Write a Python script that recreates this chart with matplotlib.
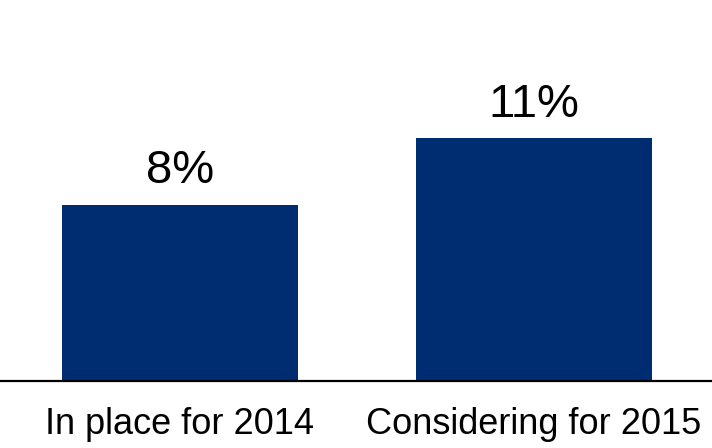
import matplotlib
matplotlib.use("Agg")
import matplotlib.pyplot as plt

categories = ["In place for 2014", "Considering for 2015"]
values = [8, 11]
value_labels = ["8%", "11%"]

bar_color = "#002D72"

plt.rcParams["font.family"] = ["Liberation Sans", "DejaVu Sans"]

fig = plt.figure(figsize=(7.12, 4.48), dpi=100)
ax = fig.add_axes([0, 0.1496, 1, 0.8504])

x = range(len(categories))
bars = ax.bar(x, values, width=0.667, color=bar_color)

for rect, lab in zip(bars, value_labels):
    cx = rect.get_x() + rect.get_width() / 2
    ax.annotate(lab, (cx, rect.get_height()),
                xytext=(0, 15.5), textcoords="offset points",
                ha="center", va="baseline", fontsize=34, color="black")

# category names under the baseline
for cx, name in zip(x, categories):
    ax.annotate(name, (cx, 0), xytext=(0, -38), textcoords="offset points",
                ha="center", va="baseline", fontsize=26, color="black",
                annotation_clip=False)

ax.set_xlim(-0.508, 1.503)
ax.set_ylim(0, 17.28)

ax.set_xticks([])
ax.set_yticks([])

for side in ["top", "left", "right"]:
    ax.spines[side].set_visible(False)
ax.spines["bottom"].set_linewidth(1.6)
ax.spines["bottom"].set_color("black")

fig.savefig("out.png", dpi=100)
